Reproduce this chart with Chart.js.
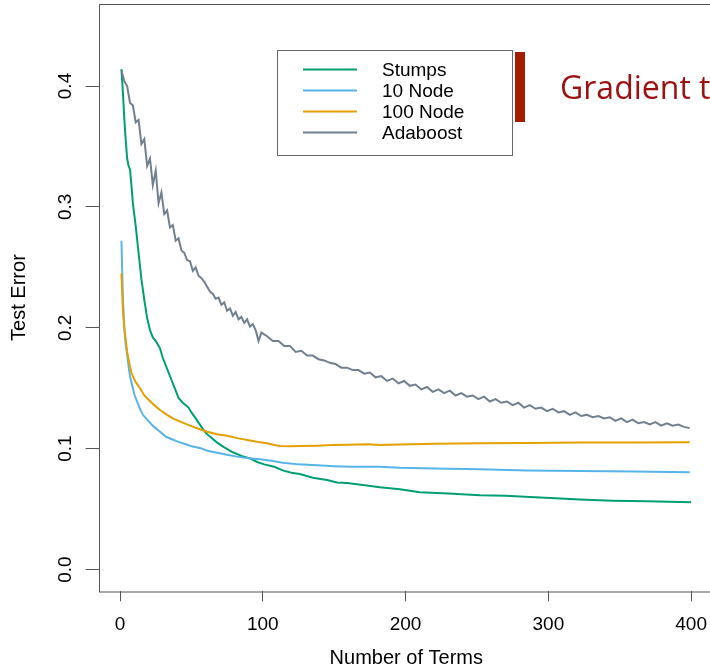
<!DOCTYPE html>
<html><head><meta charset="utf-8">
<script src="https://cdn.jsdelivr.net/npm/chart.js@4.4.0/dist/chart.umd.min.js"></script>
<style>
html,body{margin:0;padding:0;overflow:hidden;background:#fff;width:710px;height:669px;}
#wrap{position:absolute;left:0;top:0;width:714px;height:669px;}
#bar{position:absolute;left:515px;top:52px;width:9.5px;height:70px;background:#a51d00;}
#slideTitle{position:absolute;left:560px;top:70.5px;font-family:"Open Sans";font-size:32px;line-height:32px;color:#9e0f0f;white-space:nowrap;}
</style></head>
<body>
<div id="wrap"><canvas id="c" width="714" height="669"></canvas></div>
<div id="bar"></div>
<div id="slideTitle">Gradient t</div>
<script>
const seriesNames = ["Stumps", "10 Node", "100 Node", "Adaboost"];
const seriesColors = ["#009E73", "#56B4E9", "#E69F00", "#708090"];
const xTickValues = [0, 100, 200, 300, 400];
const yTickValues = [0.0, 0.1, 0.2, 0.3, 0.4];
const yTickLabels = ["0.0", "0.1", "0.2", "0.3", "0.4"];

const stumpsTerms = [1,2,3,4,5,6,7,8,9,11,13,15,17,19,21,23,25,28,30,33,36,39,41,44,48,50,53,57,60,64,68,73,79,85,91,96,101,108,114,120,126,135,145,152,159,170,182,196,210,230,252,270,287,305,322,345,369,385,400];
const stumpsError = [0.414,0.395,0.373,0.355,0.340,0.334,0.331,0.318,0.303,0.284,0.262,0.240,0.223,0.208,0.198,0.192,0.189,0.183,0.175,0.166,0.157,0.148,0.142,0.138,0.134,0.130,0.125,0.118,0.113,0.109,0.105,0.101,0.097,0.094,0.092,0.089,0.087,0.085,0.082,0.080,0.079,0.076,0.074,0.072,0.0715,0.070,0.068,0.0665,0.064,0.063,0.0615,0.061,0.060,0.059,0.058,0.057,0.0565,0.056,0.0557];

const tenTerms = [1,2,3,4,5,6,7,8,9,10,12,14,16,19,23,27,32,36,40,45,50,56,62,68,75,82,90,98,106,114,125,138,150,161,182,196,220,252,285,322,360,399];
const tenError = [0.272,0.225,0.200,0.186,0.178,0.168,0.160,0.155,0.150,0.145,0.139,0.133,0.128,0.124,0.119,0.115,0.110,0.108,0.106,0.104,0.102,0.1005,0.098,0.0967,0.095,0.0934,0.092,0.0912,0.090,0.0884,0.087,0.0862,0.0855,0.085,0.085,0.0842,0.0835,0.083,0.082,0.0815,0.081,0.0804];

const hundredTerms = [1,2,3,4,5,6,7,8,9,11,14,17,20,24,28,33,37,43,49,55,61,68,75,83,91,97,103,108,112,120,126,138,149,160,173,182,196,220,252,285,322,360,399];
const hundredError = [0.245,0.215,0.200,0.190,0.180,0.174,0.168,0.163,0.160,0.155,0.150,0.144,0.1405,0.136,0.132,0.128,0.125,0.122,0.119,0.1165,0.114,0.112,0.1106,0.1085,0.1067,0.1055,0.1045,0.103,0.1022,0.102,0.1022,0.1025,0.103,0.1033,0.1036,0.103,0.1034,0.104,0.1045,0.1047,0.105,0.105,0.1053];

const adaTerms = [1,3,5,7,9,11,13,15,17,19,21,23,25,27,29,31,33,35,37,39,41,43,45,47,49,51,53,55,57,59,61,63,65,67,69,71,73,75,77,79,81,83,85,87,89,91,93,95,97,99,
103,107,111,115,119,123,127,131,135,139,143,147,151,155,159,163,167,171,175,179,183,187,191,195,199,203,207,211,215,219,223,227,231,235,239,243,247,251,255,259,263,267,271,275,279,283,287,291,295,299,303,307,311,315,319,323,327,331,335,339,343,347,351,355,359,363,367,371,375,379,383,387,391,395,399];
const adaError = [0.413,0.404,0.400,0.386,0.384,0.370,0.372,0.352,0.356,0.334,0.340,0.318,0.330,0.303,0.312,0.294,0.297,0.283,0.285,0.272,0.274,0.264,0.262,0.256,0.255,0.247,0.250,0.243,0.241,0.238,0.234,0.230,0.228,0.224,0.225,0.219,0.221,0.214,0.216,0.210,0.213,0.207,0.209,0.204,0.207,0.201,0.203,0.198,0.189,0.196,
0.193,0.189,0.189,0.185,0.185,0.180,0.181,0.177,0.177,0.174,0.173,0.171,0.170,0.167,0.167,0.165,0.165,0.162,0.163,0.159,0.160,0.156,0.158,0.154,0.156,0.152,0.153,0.149,0.151,0.147,0.149,0.146,0.148,0.144,0.146,0.143,0.144,0.141,0.143,0.139,0.141,0.138,0.139,0.136,0.138,0.134,0.136,0.133,0.134,0.131,0.133,0.130,0.131,0.128,0.130,0.127,0.128,0.126,0.127,0.125,0.126,0.123,0.125,0.122,0.124,0.121,0.122,0.120,0.122,0.119,0.121,0.119,0.120,0.118,0.117];

const seriesTerms = [stumpsTerms, tenTerms, hundredTerms, adaTerms];
const seriesError = [stumpsError, tenError, hundredError, adaError];

const FONT = '"Liberation Sans", Arial, sans-serif';

const datasets = seriesNames.map((name, k) => ({
  label: name,
  data: seriesTerms[k].map((t, i) => ({x: t, y: seriesError[k][i]})),
  borderColor: seriesColors[k],
  backgroundColor: seriesColors[k],
  borderWidth: 2,
  pointRadius: 0,
  fill: false,
  tension: 0,
  order: seriesNames.length - 1 - k
}));

const boxAndLegend = {
  id: 'boxAndLegend',
  afterDraw(chart) {
    const ctx = chart.ctx;
    const a = chart.chartArea;
    ctx.save();
    ctx.strokeStyle = '#555555';
    ctx.lineWidth = 1;
    ctx.strokeRect(Math.round(a.left) + 0.5, Math.round(a.top) + 0.5, a.right - a.left, a.bottom - a.top);
    const lx = 277.5, ly = 50.5, lw = 235, lh = 105;
    ctx.fillStyle = '#ffffff';
    ctx.fillRect(lx, ly, lw, lh);
    ctx.strokeStyle = '#666666';
    ctx.strokeRect(lx, ly, lw, lh);
    ctx.font = '19px ' + FONT;
    ctx.textBaseline = 'middle';
    ctx.textAlign = 'left';
    chart.data.datasets.forEach((ds, i) => {
      const y = 69.5 + i * 21;
      ctx.strokeStyle = ds.borderColor;
      ctx.lineWidth = 2;
      ctx.beginPath();
      ctx.moveTo(303, y);
      ctx.lineTo(357, y);
      ctx.stroke();
      ctx.fillStyle = '#000000';
      ctx.fillText(ds.label, 382, y + 1.5);
    });
    ctx.restore();
  }
};

new Chart(document.getElementById('c'), {
  type: 'line',
  data: { datasets },
  options: {
    responsive: false,
    devicePixelRatio: 1,
    animation: false,
    layout: { padding: { top: 3.8, left: 0, right: 0, bottom: 0 } },
    plugins: { legend: { display: false }, tooltip: { enabled: false } },
    scales: {
      x: {
        type: 'linear',
        min: -15, max: 416,
        afterBuildTicks: s => { s.ticks = xTickValues.map(v => ({ value: v })); },
        afterFit: s => { s.height = 77.7; s.paddingLeft = 0; s.paddingRight = 0; },
        border: { display: false },
        grid: { display: true, drawOnChartArea: false, drawTicks: true, tickLength: 10, color: '#555555', lineWidth: 1 },
        ticks: { color: '#000', font: { family: FONT, size: 19 }, padding: 12, maxRotation: 0, autoSkip: false, callback: v => String(v) },
        title: { display: true, text: 'Number of Terms', color: '#000', font: { family: FONT, size: 20, lineHeight: 1.07 }, padding: 0 }
      },
      y: {
        type: 'linear',
        min: -0.018, max: 0.468,
        afterBuildTicks: s => { s.ticks = yTickValues.map(v => ({ value: v })); },
        afterFit: s => { s.width = 98.6; s.paddingTop = 0; s.paddingBottom = 0; },
        border: { display: false },
        grid: { display: true, drawOnChartArea: false, drawTicks: true, tickLength: 13, color: '#555555', lineWidth: 1 },
        ticks: { color: '#000', font: { family: FONT, size: 19 }, padding: 6.5, minRotation: 90, maxRotation: 90, crossAlign: 'center', autoSkip: false,
                 callback: v => { const i = yTickValues.findIndex(t => Math.abs(t - v) < 1e-9); return i >= 0 ? yTickLabels[i] : ''; } },
        title: { display: true, text: 'Test Error', color: '#000', font: { family: FONT, size: 20, lineHeight: 1.2 }, padding: { top: 7, bottom: 0 } }
      }
    }
  },
  plugins: [boxAndLegend]
});
</script>
</body></html>
